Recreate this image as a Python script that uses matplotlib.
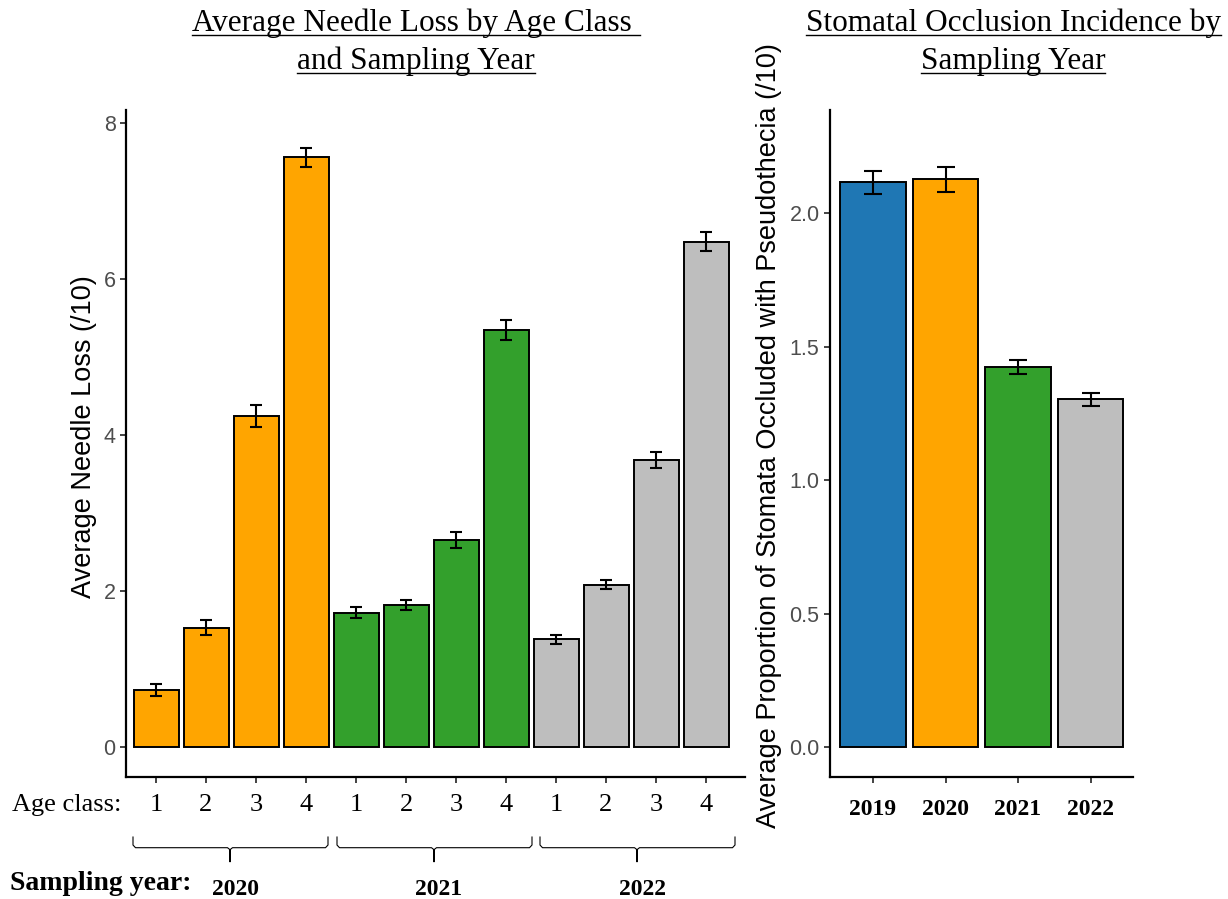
import numpy as np
import matplotlib.pyplot as plt
from matplotlib.lines import Line2D

# needle loss by age class within each sampling year
years = ["2020", "2021", "2022"]
age_classes = ["1", "2", "3", "4"]
needle_loss = [0.73, 1.53, 4.24, 7.56,
               1.72, 1.82, 2.65, 5.35,
               1.38, 2.08, 3.68, 6.48]
needle_err = [0.08, 0.10, 0.14, 0.12,
              0.07, 0.07, 0.10, 0.13,
              0.06, 0.06, 0.10, 0.12]
year_colors = ["#FFA500", "#33A02C", "#BEBEBE"]

# stomatal occlusion by sampling year
occ_years = ["2019", "2020", "2021", "2022"]
occlusion = [2.116, 2.127, 1.423, 1.303]
occ_err = [0.043, 0.047, 0.026, 0.024]
occ_colors = ["#1F77B4", "#FFA500", "#33A02C", "#BEBEBE"]

serif = "Liberation Serif"
sans = "Liberation Sans"
tick_gray = "#4D4D4D"

fig = plt.figure(figsize=(12.28, 8.99), dpi=100)
W, H = 1228, 899


def px_axes(l, t, r, b):
    return fig.add_axes([l / W, 1 - b / H, (r - l) / W, (b - t) / H])


def style(ax):
    for s in ["top", "right"]:
        ax.spines[s].set_visible(False)
    for s in ["left", "bottom"]:
        ax.spines[s].set_linewidth(1.6)
    ax.tick_params(axis="y", length=4, width=1.2, colors="#222222",
                   labelcolor=tick_gray, labelsize=15.5)
    ax.tick_params(axis="x", length=4, width=1.2, colors="#222222",
                   labelcolor="black")
    for lab in ax.get_yticklabels():
        lab.set_fontfamily(sans)


# left panel
ax1 = px_axes(126, 110, 745, 777)
x1 = np.arange(1, len(needle_loss) + 1)
cols1 = [c for c in year_colors for _ in age_classes]
ax1.bar(x1, needle_loss, width=0.9, color=cols1, edgecolor="black", linewidth=1.4)
ax1.errorbar(x1, needle_loss, yerr=needle_err, fmt="none", ecolor="black",
             elinewidth=1.5, capsize=4.4, capthick=1.5)
ax1.set_xlim(0.4, 12.78)
ax1.set_ylim(-0.385, 8.167)
ax1.set_yticks([0, 2, 4, 6, 8])
ax1.set_xticks(x1)
ax1.set_xticklabels(age_classes * len(years), fontfamily=serif, fontsize=19)
ax1.tick_params(axis="x", pad=8)
ax1.set_ylabel("Average Needle Loss (/10)", fontfamily=sans, fontsize=19.5)
ax1.yaxis.set_label_coords(-0.047, 0.51)
style(ax1)

fig.text(12 / W, 1 - 805 / H, "Age class:", fontfamily=serif, fontsize=19,
         va="center", ha="left")
fig.text(10 / W, 1 - 883 / H, "Sampling year:", fontfamily=serif, fontsize=20,
         fontweight="bold", va="center", ha="left")

# braces under each sampling year
trans = ax1.get_xaxis_transform()
y_top, y_mid, y_tip = -0.090, -0.106, -0.127
brace_starts = [0.54, 4.62, 8.68]
for a, yr in zip(brace_starts, years):
    b = a + 3.9
    c = a + 1.94
    xs = [a, a, a + 0.05, c - 0.05, c, c, c, c + 0.05, b - 0.05, b, b]
    ys = [y_top, y_mid + 0.004, y_mid, y_mid, y_mid - 0.003, y_tip,
          y_mid - 0.003, y_mid, y_mid, y_mid + 0.004, y_top]
    ax1.add_line(Line2D(xs, ys, transform=trans, color="black", lw=0.8,
                        clip_on=False))
    ax1.text(c + 0.1, -0.168, yr, transform=trans, ha="center", va="center",
             fontfamily=serif, fontsize=17, fontweight="bold")

# right panel
ax2 = px_axes(830, 110, 1133, 777)
x2 = np.arange(1, len(occlusion) + 1)
ax2.bar(x2, occlusion, width=0.9, color=occ_colors, edgecolor="black", linewidth=1.4)
ax2.errorbar(x2, occlusion, yerr=occ_err, fmt="none", ecolor="black",
             elinewidth=1.5, capsize=6.5, capthick=1.5)
ax2.set_xlim(0.407, 4.586)
ax2.set_ylim(-0.112, 2.386)
ax2.set_yticks([0, 0.5, 1.0, 1.5, 2.0])
ax2.set_yticklabels(["0.0", "0.5", "1.0", "1.5", "2.0"])
ax2.set_xticks(x2)
ax2.set_xticklabels(occ_years, fontfamily=serif, fontsize=17, fontweight="bold")
ax2.tick_params(axis="x", pad=12)
ax2.set_ylabel("Average Proportion of Stomata Occluded with Pseudothecia (/10)",
               fontfamily=sans, fontsize=19.5)
ax2.yaxis.set_label_coords(-0.158, 0.512)
style(ax2)

# underlined titles
fig.canvas.draw()
renderer = fig.canvas.get_renderer()


def title_line(xc, yc, s):
    t = fig.text(xc / W, 1 - yc / H, s, ha="center", va="center",
                 fontfamily=serif, fontsize=22.5)
    bb = t.get_window_extent(renderer)
    yl = bb.y0 + 3
    fig.add_artist(Line2D([bb.x0 / W, bb.x1 / W], [yl / H, yl / H],
                          transform=fig.transFigure, color="black", lw=1))


title_line(416, 23, "Average Needle Loss by Age Class ")
title_line(416, 61, "and Sampling Year")
title_line(1013, 23, "Stomatal Occlusion Incidence by")
title_line(1013, 61, "Sampling Year")

fig.savefig("out.png", dpi=100)
